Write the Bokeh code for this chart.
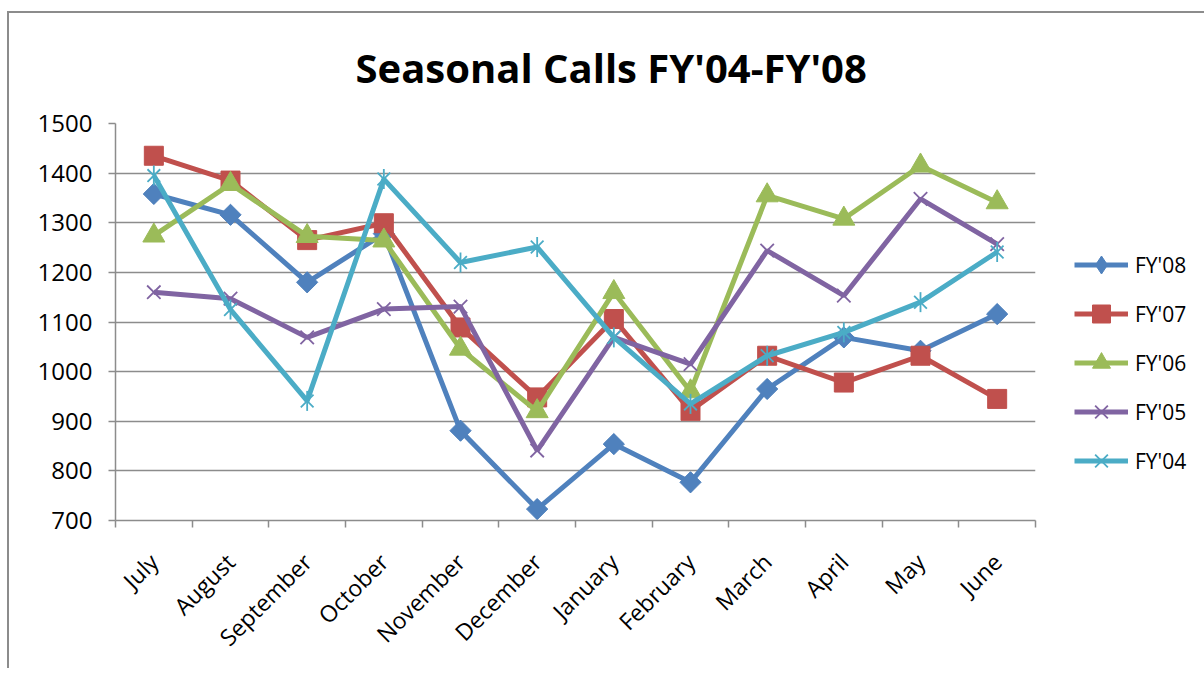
from math import pi
from bokeh.plotting import figure
from bokeh.models import FixedTicker, Legend, LegendItem, Range1d, ColumnDataSource
from bokeh.embed import file_html
from bokeh.resources import INLINE

months = ["July", "August", "September", "October", "November", "December",
          "January", "February", "March", "April", "May", "June"]
fy08 = [1358, 1316, 1180, 1278, 881, 723, 854, 777, 965, 1069, 1042, 1116]
fy07 = [1435, 1385, 1265, 1299, 1089, 948, 1106, 921, 1032, 978, 1032, 945]
fy06 = [1274, 1378, 1273, 1264, 1046, 920, 1160, 960, 1355, 1308, 1415, 1341]
fy05 = [1160, 1147, 1069, 1126, 1131, 841, 1069, 1015, 1244, 1153, 1348, 1257]
fy04 = [1395, 1125, 941, 1388, 1220, 1251, 1069, 935, 1032, 1079, 1140, 1241]
y_ticks = [700, 800, 900, 1000, 1100, 1200, 1300, 1400, 1500]

FONT = "Open Sans"
GRAY = "#8c8c8c"

xs = [i + 0.5 for i in range(len(months))]

p = figure(output_backend="svg", toolbar_location=None,
           frame_width=920, frame_height=397,
           min_border_left=106, min_border_top=110,
           min_border_right=165, min_border_bottom=148,
           x_range=Range1d(0, 12), y_range=Range1d(700, 1500),
           title="Seasonal Calls FY'04-FY'08")
p.styles = {"border-left": f"2px solid {GRAY}", "border-top": f"2px solid {GRAY}",
            "margin-top": "11px", "margin-left": "7px"}
p.outline_line_color = None
p.background_fill_color = "white"
p.border_fill_color = "white"

p.title.text_font = FONT
p.title.text_font_size = "40px"
p.title.text_font_style = "bold"
p.title.text_color = "black"
p.title.align = "left"
p.title.vertical_align = "top"
p.title.offset = 240
p.title.standoff = 53

# x axis
p.xaxis.ticker = FixedTicker(ticks=xs, minor_ticks=list(range(13)))
p.xaxis.major_label_overrides = {x: m for x, m in zip(xs, months)}
p.xaxis.major_tick_in = 0
p.xaxis.major_tick_out = 0
p.xaxis.minor_tick_in = 0
p.xaxis.minor_tick_out = 7
p.xaxis.minor_tick_line_color = GRAY
p.xaxis.minor_tick_line_width = 1.5
p.xaxis.axis_line_color = GRAY
p.xaxis.axis_line_width = 1.5
p.xaxis.major_label_orientation = pi / 4
p.xaxis.major_label_text_font = FONT
p.xaxis.major_label_text_font_size = "23px"
p.xaxis.major_label_text_color = "black"
p.xaxis.major_label_standoff = 30
p.xgrid.visible = False

# y axis
p.yaxis.ticker = FixedTicker(ticks=y_ticks)
p.yaxis.major_tick_in = 0
p.yaxis.major_tick_out = 7
p.yaxis.minor_tick_out = 0
p.yaxis.minor_tick_in = 0
p.yaxis.major_tick_line_color = GRAY
p.yaxis.major_tick_line_width = 1.5
p.yaxis.axis_line_color = GRAY
p.yaxis.axis_line_width = 1.5
p.yaxis.major_label_text_font = FONT
p.yaxis.major_label_text_font_size = "24px"
p.yaxis.major_label_text_color = "black"
p.yaxis.major_label_standoff = 16
p.ygrid.ticker = FixedTicker(ticks=y_ticks)
p.ygrid.grid_line_color = GRAY
p.ygrid.grid_line_width = 1.5

series = [
    ("FY'08", fy08, "#4F81BD"),
    ("FY'07", fy07, "#C0504D"),
    ("FY'06", fy06, "#9BBB59"),
    ("FY'05", fy05, "#8064A2"),
    ("FY'04", fy04, "#4BACC6"),
]

items = []
for name, vals, color in series:
    src = ColumnDataSource(dict(x=xs, y=vals))
    line = p.line("x", "y", source=src, line_color=color, line_width=5)
    rs = [line]
    if name == "FY'08":
        # narrow diamond (shown in the legend), covered by a rotated square in the plot
        rs.append(p.scatter("x", "y", source=src, marker="diamond", size=20,
                            fill_color=color, line_color=color))
        p.scatter("x", "y", source=src, marker="square", angle=pi / 4, size=15,
                  fill_color=color, line_color=color)
    elif name == "FY'07":
        rs.append(p.scatter("x", "y", source=src, marker="square", size=19,
                            fill_color=color, line_color=color))
    elif name == "FY'06":
        rs.append(p.scatter("x", "y", source=src, marker="triangle", size=22,
                            fill_color=color, line_color=color))
    elif name == "FY'05":
        rs.append(p.scatter("x", "y", source=src, marker="x", size=19,
                            line_color=color, line_width=1.8))
    else:
        rs.append(p.scatter("x", "y", source=src, marker="x", size=18,
                            line_color=color, line_width=1.8))
        rs.append(p.scatter("x", "y", source=src, marker="dash", angle=pi / 2, size=20,
                            line_color=color, line_width=1.8))
    items.append(LegendItem(label=name, renderers=rs))

legend = Legend(items=items, location=(39, 37), orientation="vertical",
                glyph_width=54, glyph_height=45, spacing=4, padding=0, margin=0,
                label_standoff=7, label_text_font=FONT, label_text_font_size="21px",
                label_text_color="black", border_line_color=None,
                background_fill_alpha=0)
p.add_layout(legend, "right")

open("out.html", "w").write(file_html(p, INLINE))
